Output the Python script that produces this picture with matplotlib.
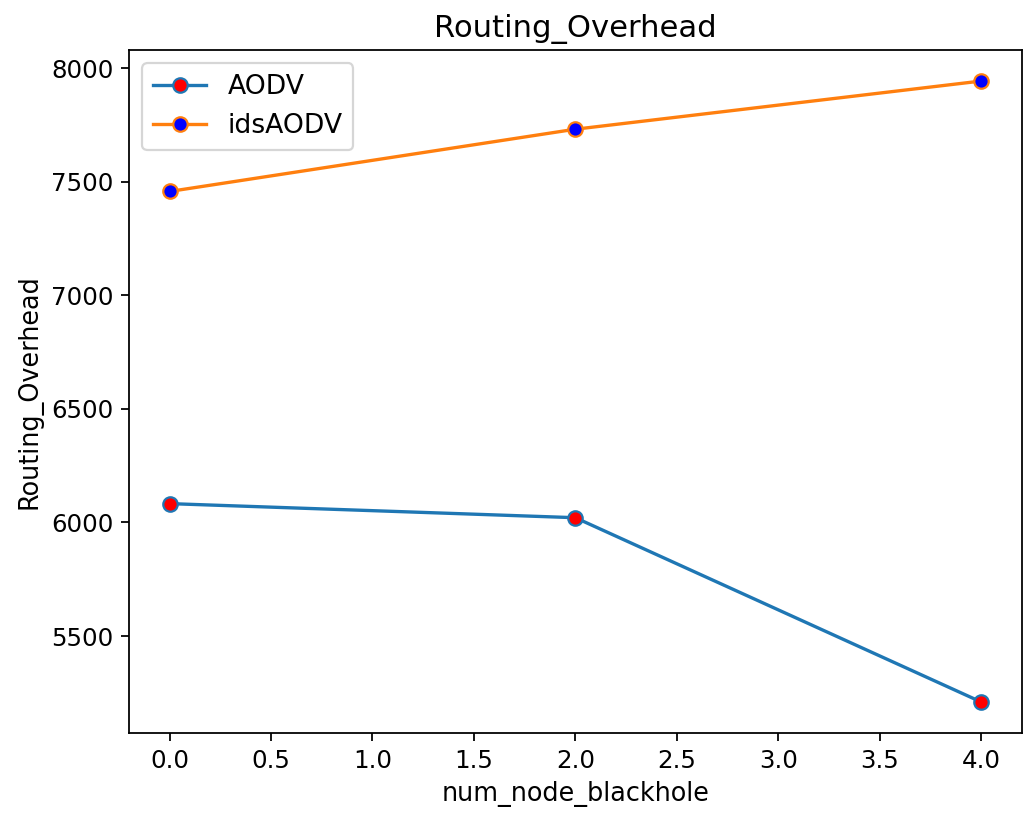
import matplotlib
matplotlib.use("Agg")
import matplotlib.pyplot as plt

# datos
num_node_blackhole = [0, 2, 4]
aodv = [6083, 6021, 5210]
ids_aodv = [7457, 7731, 7943]

fig = plt.figure(figsize=(1032 / 160, 813 / 160), dpi=160)
ax = fig.add_subplot(111)
fig.subplots_adjust(left=0.125, right=0.990, top=0.9385, bottom=0.0984)

ax.plot(num_node_blackhole, aodv, marker='o', markerfacecolor='red',
        markersize=6.5, label='AODV')
ax.plot(num_node_blackhole, ids_aodv, marker='o', markerfacecolor='blue',
        markersize=6.5, label='idsAODV')

ax.set_title("Routing_Overhead", fontsize=13.8)
ax.set_xlabel("num_node_blackhole", fontsize=11.5)
ax.set_ylabel("Routing_Overhead", fontsize=11.5)
ax.tick_params(labelsize=11)
ax.legend(loc='upper left', fontsize=12)

fig.savefig("out.png", dpi=160)
